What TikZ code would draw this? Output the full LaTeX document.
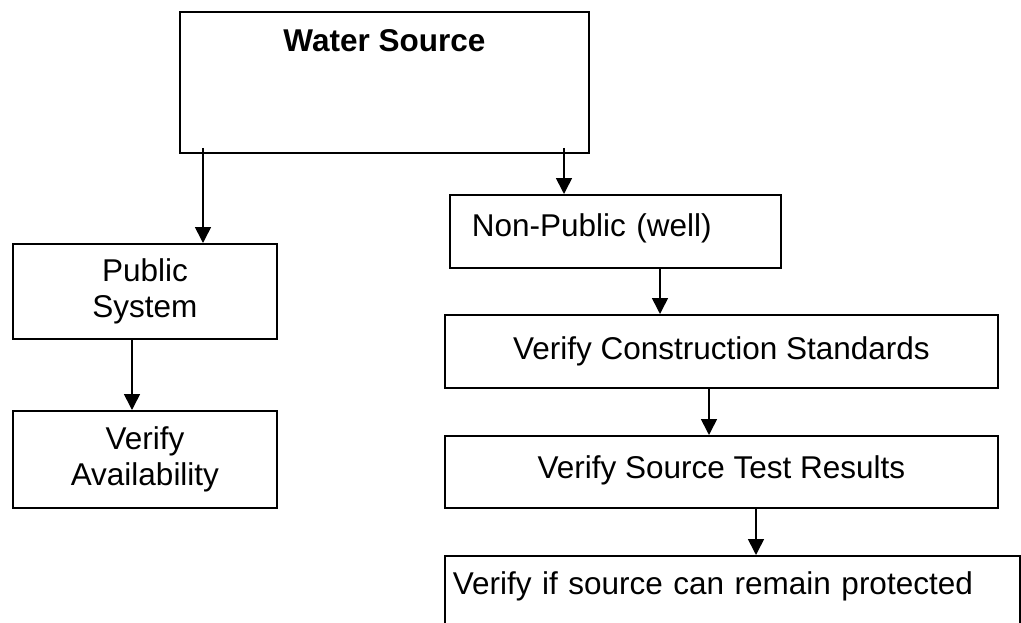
\documentclass[tikz,border=0pt]{standalone}
\usepackage{fontspec}
\setmainfont{Liberation Sans}
\usetikzlibrary{arrows.meta}
\begin{document}
\begin{tikzpicture}[x=1pt,y=-1pt,
  box/.style={draw=black,line width=1.8pt,rectangle,inner sep=0pt,anchor=north west,
    font=\fontsize{31.5}{36.5}\selectfont},
  arr/.style={line width=1.6pt,-{Triangle[width=16pt,length=16pt]}}]
\clip (0,0) rectangle (1021,622);
\fill[white] (0,0) rectangle (1021,622);
% nodes
\node[box,minimum width=409pt,text height=40pt,text depth=101pt,font=\fontsize{31.5}{36.5}\selectfont\bfseries] (ws) at (179,11) {Water Source};
\node[box,minimum width=264pt,minimum height=95pt,align=center] (ps) at (12,243) {Public\\System};
\node[box,minimum width=264pt,minimum height=97pt,align=center] (va) at (12,410) {Verify\\Availability};
\node[box,text width=287pt,inner xsep=22pt,align=left,text height=42pt,text depth=31pt] (np) at (449,194) {Non-Public (well)};
\node[box,minimum width=553pt,minimum height=73pt] (vc) at (444,314) {Verify Construction Standards};
\node[box,minimum width=553pt,text height=43pt,text depth=29pt] (vs) at (444,435) {Verify Source Test Results};
\node[box,text width=559pt,inner xsep=8pt,align=left,text height=39pt,text depth=60pt] (vp) at (444,555) {Verify if source can remain protected};
% connectors
\draw[arr] ([shift={(24,-6)}]ws.south west) coordinate (a1) -- (a1 |- ps.north);
\draw[arr] ([shift={(385,-6)}]ws.south west) coordinate (a2) -- (a2 |- np.north);
\draw[arr] ([xshift=120pt]ps.south west) coordinate (a3) -- (a3 |- va.north);
\draw[arr] ([xshift=211pt]np.south west) coordinate (a4) -- (a4 |- vc.north);
\draw[arr] ([xshift=265pt]vc.south west) coordinate (a5) -- (a5 |- vs.north);
\draw[arr] ([xshift=312pt]vs.south west) coordinate (a6) -- (a6 |- vp.north);
\end{tikzpicture}
\end{document}
